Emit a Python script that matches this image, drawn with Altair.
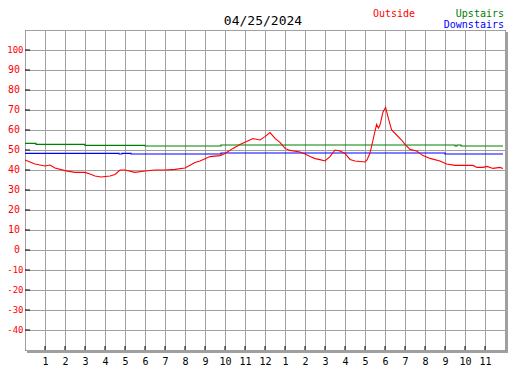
import altair as alt
import pandas as pd

# ---- data (hours since midnight, temperature) ----
out_hours = [0, 0.25, 0.5, 1, 1.25, 1.5, 2, 2.5, 3, 3.25, 3.5, 3.8, 4.25, 4.5, 4.75, 5,
             5.5, 6, 6.5, 7, 7.5, 8, 8.5, 8.75, 9.25, 9.75, 10, 10.4, 10.75, 11.08, 11.4,
             11.75, 12, 12.25, 12.5, 12.75, 13, 13.25, 13.75, 14, 14.25, 14.5, 14.75, 15,
             15.25, 15.5, 15.75, 16, 16.25, 16.5, 17, 17.1, 17.25, 17.4, 17.58, 17.67, 17.75,
             17.9, 18.03, 18.17, 18.33, 18.58, 18.83, 19, 19.25, 19.58, 19.9, 20.25, 20.75,
             21.08, 21.5, 22.4, 22.6, 22.9, 23.1, 23.4, 23.75, 23.9]
out_temps = [45, 44, 43, 42, 42.5, 41, 39.7, 38.8, 38.8, 38, 37, 36.5, 37, 37.8, 40, 40,
             38.8, 39.5, 40, 40, 40.3, 41, 43.7, 44.5, 46.7, 47.2, 48.3, 50.8, 52.8, 54.2, 55.7,
             55, 56.7, 58.7, 55.8, 53.8, 50.8, 49.8, 49, 48, 46.7, 45.7, 45.2, 44.5,
             46.7, 50, 49.5, 48.3, 45.3, 44.5, 44, 45, 48.5, 55, 62.8, 61, 62.5,
             69, 71.3, 65.8, 60, 57.5, 55, 52.8, 50.3, 49.5, 47.2, 45.8, 44.5,
             43, 42.3, 42.3, 41.3, 41.3, 41.8, 40.8, 41.3, 40.8]

up_hours = [0, 0.55, 3, 6, 9.8, 21.5, 21.6, 21.8, 23.9]
up_temps = [53.3, 52.8, 52.3, 52.0, 52.5, 52.0, 52.5, 52.0, 52.0]

down_hours = [0, 4.7, 4.85, 5.3, 5.75, 9.8, 21.0, 21.1, 23.9]
down_temps = [48.3, 48.0, 48.3, 48.0, 48.0, 48.5, 48.0, 48.0, 48.0]

y_ticks = [-40, -30, -20, -10, 0, 10, 20, 30, 40, 50, 60, 70, 80, 90, 100]
x_ticks = list(range(1, 24))
title_text = "04/25/2024"
legend_names = ["Outside", "Upstairs", "Downstairs"]
legend_colors = ["#ff0000", "#008000", "#0000ff"]

FONT = "DejaVu Sans Mono"
GRID = "#a0a0a0"

xs = alt.Scale(domain=[0, 24], nice=False, zero=False)
ys = alt.Scale(domain=[-50, 110], nice=False, zero=False)

df_out = pd.DataFrame({"h": out_hours, "t": out_temps})
df_up = pd.DataFrame({"h": up_hours, "t": up_temps})
df_down = pd.DataFrame({"h": down_hours, "t": down_temps})

x_axis = alt.Axis(values=list(range(0, 25)), grid=True, gridColor=GRID, gridOpacity=1,
                  ticks=False, domain=False, labelFont=FONT, labelFontSize=10,
                  labelColor="black", labelPadding=6, labelAngle=0, title=None,
                  labelExpr="datum.value == 0 || datum.value == 24 ? '' : (datum.value > 12 ? datum.value - 12 : datum.value)")
y_axis = alt.Axis(values=list(range(-50, 111, 10)), grid=True, gridColor=GRID, gridOpacity=1,
                  ticks=False, domain=False, labels=False, title=None)

X = alt.X("h:Q", scale=xs, axis=x_axis)
Y = alt.Y("t:Q", scale=ys, axis=y_axis)

l_up = alt.Chart(df_up).mark_line(color="#008000", strokeWidth=1.2, interpolate="step-after").encode(x=X, y=Y)
l_down = alt.Chart(df_down).mark_line(color="#0000ff", strokeWidth=1.2, interpolate="step-after").encode(x=X, y=Y)
l_out = alt.Chart(df_out).mark_line(color="#ff0000", strokeWidth=1.1).encode(x=X, y=Y)

yt = alt.Chart(pd.DataFrame({"t": y_ticks})).mark_rule(color="black", strokeWidth=1).encode(
    y=Y, x=alt.value(0), x2=alt.value(5))
xt = alt.Chart(pd.DataFrame({"h": x_ticks})).mark_rule(color="black", strokeWidth=1).encode(
    x=X, y=alt.value(316), y2=alt.value(320))

# y tick labels (red); three-character labels a little smaller so they fit the left edge
short_vals = [v for v in y_ticks if len(str(v)) < 3]
long_vals = [v for v in y_ticks if len(str(v)) >= 3]
df_ys = pd.DataFrame({"t": short_vals, "s": [str(v) for v in short_vals]})
df_yl = pd.DataFrame({"t": long_vals, "s": [str(v) for v in long_vals]})
ylab_s = alt.Chart(df_ys).mark_text(font=FONT, fontSize=10, align="right", baseline="middle",
                                    color="#ff0000").encode(y=Y, x=alt.value(-5), text="s:N")
ylab_l = alt.Chart(df_yl).mark_text(font=FONT, fontSize=9, align="right", baseline="middle",
                                    color="#ff0000").encode(y=Y, x=alt.value(-1.5), text="s:N")

shadow_r = alt.Chart(pd.DataFrame({"a": [0]})).mark_rule(color=GRID, strokeWidth=2).encode(
    x=alt.value(482), y=alt.value(2), y2=alt.value(323))
shadow_b = alt.Chart(pd.DataFrame({"a": [0]})).mark_rule(color=GRID, strokeWidth=2).encode(
    y=alt.value(322), x=alt.value(2), x2=alt.value(483))

title = alt.Chart(pd.DataFrame({"s": [title_text]})).mark_text(
    font=FONT, fontSize=13, align="center", baseline="alphabetic", color="black").encode(
    text="s:N", x=alt.value(238), y=alt.value(-5))

leg_out = alt.Chart(pd.DataFrame({"s": [legend_names[0]]})).mark_text(
    font=FONT, fontSize=10, align="left", baseline="alphabetic", color=legend_colors[0]).encode(
    text="s:N", x=alt.value(348), y=alt.value(-13))
leg_up = alt.Chart(pd.DataFrame({"s": [legend_names[1]]})).mark_text(
    font=FONT, fontSize=10, align="right", baseline="alphabetic", color=legend_colors[1]).encode(
    text="s:N", x=alt.value(479), y=alt.value(-13))
leg_down = alt.Chart(pd.DataFrame({"s": [legend_names[2]]})).mark_text(
    font=FONT, fontSize=10, align="right", baseline="alphabetic", color=legend_colors[2]).encode(
    text="s:N", x=alt.value(479), y=alt.value(-2))

chart = alt.layer(
    l_up, l_down, l_out, shadow_r, shadow_b, yt, xt, ylab_s, ylab_l,
    title, leg_out, leg_up, leg_down
).properties(
    width=480, height=320,
    autosize=alt.AutoSizeParams(type="none"),
    padding={"left": 17, "top": 22, "right": 14, "bottom": 20},
    background="white",
).configure_view(stroke="black", strokeWidth=1)

chart.save("out.html", embed_options={"renderer": "svg", "actions": False})
